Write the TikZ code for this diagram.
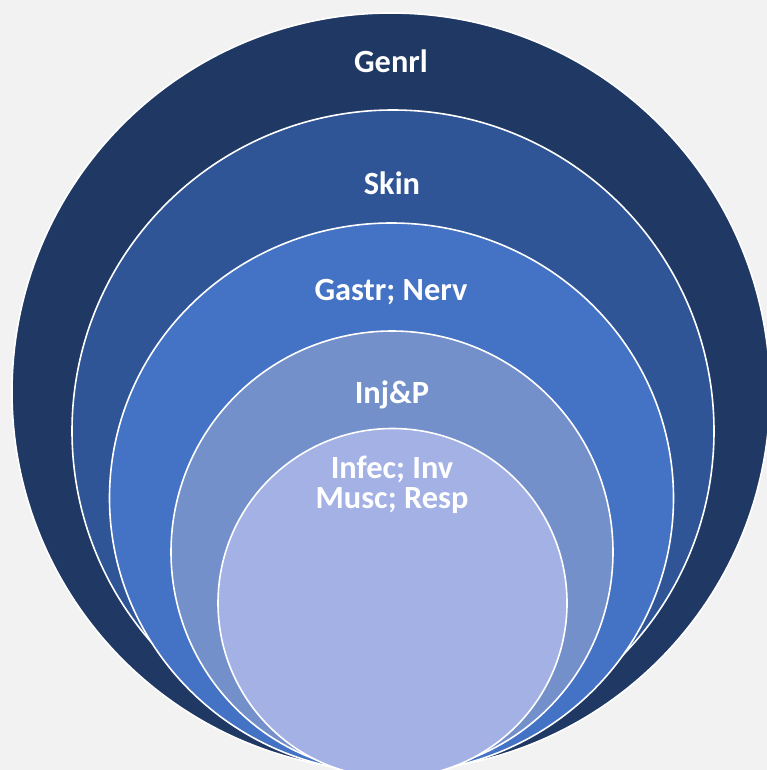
\documentclass[tikz,border=0pt]{standalone}
\usepackage{fontspec}
\setmainfont{Carlito}
\definecolor{bgGray}{HTML}{F2F2F2}
\definecolor{ringA}{HTML}{203864}
\definecolor{ringB}{HTML}{2F5597}
\definecolor{ringC}{HTML}{4472C4}
\definecolor{ringD}{HTML}{7490CA}
\definecolor{ringE}{HTML}{A3B1E5}

\begin{document}
\begin{tikzpicture}[
    x=1bp, y=-1bp,
    ring/.style={draw=white, line width=1.6bp},
    ringtext/.style={text=white, font=\bfseries\fontsize{32.5}{30}\selectfont,
        align=center, anchor=base, inner sep=0pt}
    ]
    % background
    \fill[bgGray] (0,0) rectangle (767,770);
    \clip (0,0) rectangle (767,770);
    % rings, largest first
    \filldraw[ring, fill=ringA] (391,392) circle [radius=379];
    \filldraw[ring, fill=ringB] (393,431) circle [radius=321];
    \filldraw[ring, fill=ringC] (391.5,498) circle [x radius=282, y radius=275];
    \filldraw[ring, fill=ringD] (392,552) circle [radius=221];
    \filldraw[ring, fill=ringE] (392.5,603) circle [radius=174.5];
    % texts
    \node[ringtext] (genrl) at (391,73) {Genrl};
    \node[ringtext] (skin) at (392,194) {Skin};
    \node[ringtext] (gastr) at (391,300) {Gastr; Nerv};
    \node[ringtext] (injp) at (392,403) {Inj\&P};
    \node[ringtext] (infec) at (392,508) {Infec; Inv\\Musc; Resp};
\end{tikzpicture}
\end{document}
